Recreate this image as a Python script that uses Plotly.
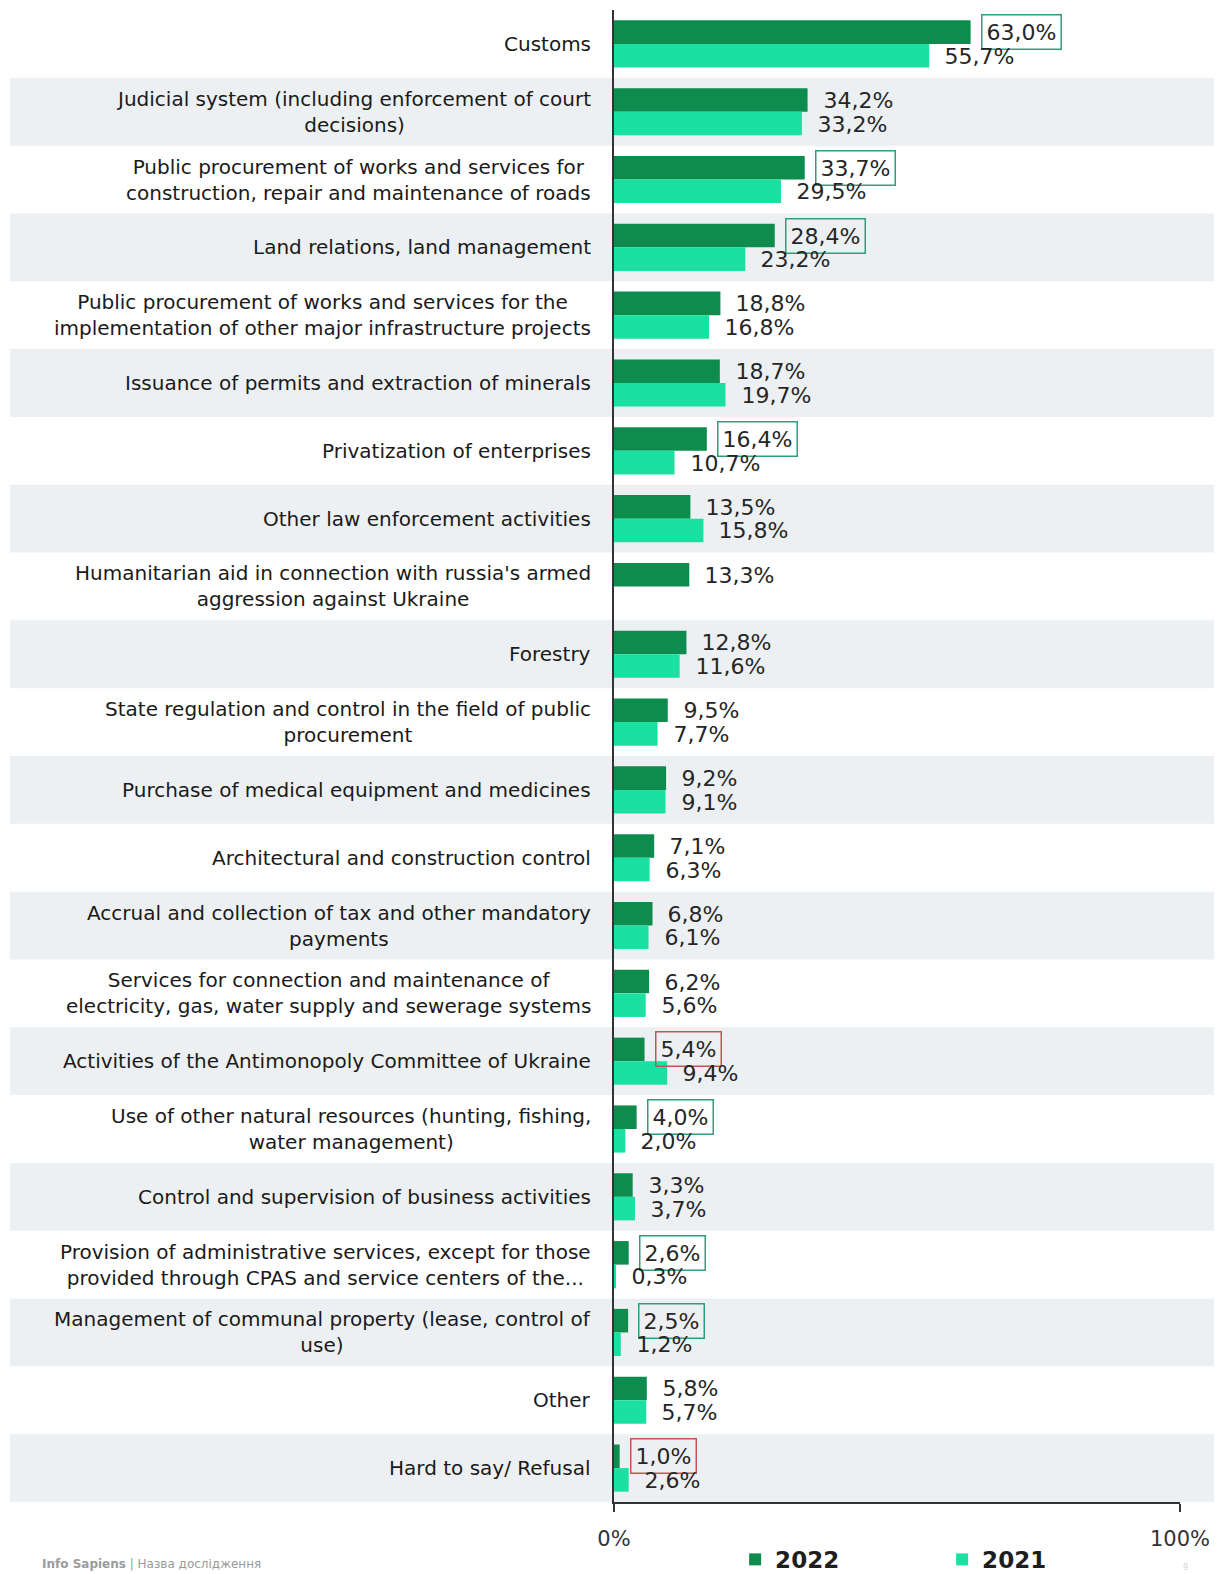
import plotly.graph_objects as go

categories = [
    "Customs",
    "Judicial system (including enforcement of court<br>decisions)",
    "Public procurement of works and services for<br>construction, repair and maintenance of roads",
    "Land relations, land management",
    "Public procurement of works and services for the<br>implementation of other major infrastructure projects",
    "Issuance of permits and extraction of minerals",
    "Privatization of enterprises",
    "Other law enforcement activities",
    "Humanitarian aid in connection with russia's armed<br>aggression against Ukraine",
    "Forestry",
    "State regulation and control in the field of public<br>procurement",
    "Purchase of medical equipment and medicines",
    "Architectural and construction control",
    "Accrual and collection of tax and other mandatory<br>payments",
    "Services for connection and maintenance of<br>electricity, gas, water supply and sewerage systems",
    "Activities of the Antimonopoly Committee of Ukraine",
    "Use of other natural resources (hunting, fishing,<br>water management)",
    "Control and supervision of business activities",
    "Provision of administrative services, except for those<br>provided through CPAS and service centers of the...",
    "Management of communal property (lease, control of<br>use)",
    "Other",
    "Hard to say/ Refusal",
]

values_2022 = [63.0, 34.2, 33.7, 28.4, 18.8, 18.7, 16.4, 13.5, 13.3, 12.8, 9.5,
               9.2, 7.1, 6.8, 6.2, 5.4, 4.0, 3.3, 2.6, 2.5, 5.8, 1.0]
values_2021 = [55.7, 33.2, 29.5, 23.2, 16.8, 19.7, 10.7, 15.8, None, 11.6, 7.7,
               9.1, 6.3, 6.1, 5.6, 9.4, 2.0, 3.7, 0.3, 1.2, 5.7, 2.6]

# highlight of 2022 labels: "up" = notable increase, "down" = notable decrease
highlight_2022 = {0: "up", 2: "up", 3: "up", 6: "up", 16: "up", 18: "up", 19: "up",
                  15: "down", 21: "down"}

tick_vals = [0, 100]
tick_text = ["0%", "100%"]

C2022 = "#0d8c4d"
C2021 = "#1ae0a1"
BAND = "#edf0f2"
BOX_UP = "#2e9e76"
BOX_DOWN = "#c65454"
FONT = "DejaVu Sans"

fig = go.Figure()
fig.add_trace(go.Bar(name="2022", y=categories, x=values_2022, orientation="h",
                     marker=dict(color=C2022, line=dict(width=0))))
fig.add_trace(go.Bar(name="2021", y=categories, x=values_2021, orientation="h",
                     marker=dict(color=C2021, line=dict(width=0))))

def fmt(v):
    return f"{v:.1f}".replace(".", ",") + "%"

shapes = []
annotations = []
for i, cat in enumerate(categories):
    if i % 2 == 1:
        shapes.append(dict(type="rect", xref="paper", yref="y", x0=-1.067, x1=1.06,
                           y0=i - 0.5, y1=i + 0.5, fillcolor=BAND, line=dict(width=0),
                           layer="below"))
    annotations.append(dict(xref="paper", yref="y", x=0, y=i, text=cat, showarrow=False,
                            xanchor="right", yanchor="middle", align="center", xshift=-21,
                            font=dict(family=FONT, size=20, color="#1a1a1a")))
    for vals, ys, yr in ((values_2022, 11.8, "2022"), (values_2021, -11.8, "2021")):
        v = vals[i]
        if v is None:
            continue
        bc = "rgba(0,0,0,0)"
        if yr == "2022" and i in highlight_2022:
            bc = BOX_UP if highlight_2022[i] == "up" else BOX_DOWN
        annotations.append(dict(xref="x", yref="y", x=v, y=i, text=fmt(v), showarrow=False,
                                xanchor="left", yanchor="middle", xshift=10, yshift=ys,
                                bordercolor=bc, borderwidth=1.5, borderpad=4,
                                font=dict(family=FONT, size=22, color="#262626")))

annotations.append(dict(xref="paper", yref="paper", x=-1.014, y=-0.0415, xanchor="left",
                        yanchor="middle", showarrow=False,
                        text="<b>Info Sapiens</b> | Назва дослідження",
                        font=dict(family=FONT, size=12, color="#9a9a9a")))
annotations.append(dict(xref="paper", yref="paper", x=1.01, y=-0.044, xanchor="center",
                        yanchor="middle", showarrow=False, text="9",
                        font=dict(family=FONT, size=8, color="#d0d0d0")))

fig.update_layout(
    width=1221, height=1574,
    margin=dict(l=614, r=41, t=10, b=72, autoexpand=False),
    paper_bgcolor="white", plot_bgcolor="rgba(0,0,0,0)",
    barmode="group", bargap=0.305, bargroupgap=0,
    shapes=shapes, annotations=annotations,
    font=dict(family=FONT, color="#262626"),
    legend=dict(orientation="h", x=0.214, xanchor="left", y=-0.0385, yanchor="middle",
                entrywidth=162, font=dict(family=FONT, size=23, color="#1e1e1e", weight="bold"),
                traceorder="normal", bgcolor="rgba(0,0,0,0)"),
)
fig.update_xaxes(range=[0, 100], tickvals=tick_vals, ticktext=tick_text, showgrid=False,
                 zeroline=False, showline=True, linecolor="#333333", linewidth=2,
                 ticks="outside", ticklen=8, tickwidth=2, tickcolor="#333333",
                 ticklabelstandoff=9, tickfont=dict(family=FONT, size=21, color="#333333"))
fig.update_yaxes(autorange="reversed", showticklabels=False, showgrid=False, zeroline=False,
                 showline=True, linecolor="#333333", linewidth=2, ticks="")

fig.write_html("out.html")
